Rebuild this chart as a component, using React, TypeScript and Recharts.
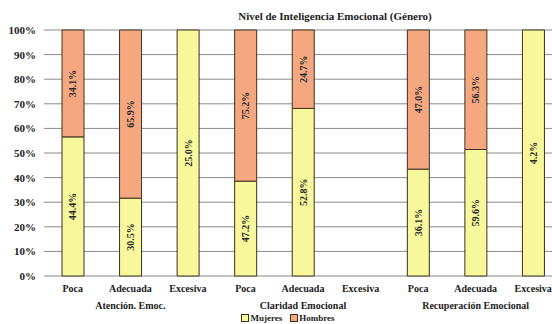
import { Bar, BarChart, CartesianGrid, LabelList, Legend, XAxis, YAxis } from "recharts";

const categories = ["Poca", "Adecuada", "Excesiva", "Poca", "Adecuada", "Excesiva", "Poca", "Adecuada", "Excesiva"];
const groups = ["Atención. Emoc.", "Claridad Emocional", "Recuperación Emocional"];
const mujeres = [44.4, 30.5, 25.0, 47.2, 52.8, 0, 36.1, 59.6, 4.2];
const hombres = [34.1, 65.9, 0, 75.2, 24.7, 0, 47.0, 56.3, 0];
const yTicks = [0, 0.1, 0.2, 0.3, 0.4, 0.5, 0.6, 0.7, 0.8, 0.9, 1];

const data = categories.map((cat, i) => ({
  key: `${cat}-${i}`,
  cat,
  mujeres: mujeres[i],
  hombres: hombres[i],
}));

const font = "'Liberation Serif', 'Times New Roman', serif";
const yellow = "#f7f79c";
const orange = "#f5a880";
const edge = "#3e3020";

function CatTick(props: any) {
  const { x, y, payload } = props;
  const i = payload.index;
  return (
    <g>
      <text x={x} y={y + 14} textAnchor="middle" fontFamily={font} fontWeight="bold" fontSize={10} fill="#222">
        {categories[i]}
      </text>
      {i % 3 === 1 && (
        <text x={x} y={y + 31} textAnchor="middle" fontFamily={font} fontWeight="bold" fontSize={10} fill="#222">
          {groups[Math.floor(i / 3)]}
        </text>
      )}
    </g>
  );
}

function ValueLabel(props: any) {
  const { x, y, width, height, value } = props;
  const v = Array.isArray(value) ? value[1] - value[0] : Number(value);
  if (!v) return null;
  const cx = x + width / 2;
  const cy = y + height / 2;
  return (
    <text
      x={cx}
      y={cy}
      transform={`rotate(-90 ${cx} ${cy})`}
      textAnchor="middle"
      dominantBaseline="central"
      fontFamily={font}
      fontWeight="bold"
      fontSize={10}
      fill="#2a2a2a"
    >
      {v.toFixed(1)}%
    </text>
  );
}

function LegendBox() {
  const item = (color: string, label: string) => (
    <span style={{ display: "inline-flex", alignItems: "center", marginRight: 8 }}>
      <span style={{ width: 6, height: 6, background: color, border: `1px solid ${edge}`, marginRight: 1 }} />
      {label}
    </span>
  );
  return (
    <div style={{ fontFamily: font, fontWeight: "bold", fontSize: 9, lineHeight: "10px", color: "#222", textAlign: "center", paddingLeft: 22, paddingTop: 1 }}>
      {item(yellow, "Mujeres")}
      {item(orange, "Hombres")}
    </div>
  );
}

export default function App() {
  return (
    <div style={{ position: "absolute", left: 0, top: 0, width: 552, height: 324, overflow: "hidden", background: "#fff" }}>
      <div
        style={{
          position: "absolute",
          top: 10,
          left: 335,
          transform: "translateX(-50%)",
          whiteSpace: "nowrap",
          fontFamily: font,
          fontWeight: "bold",
          fontSize: 11,
          color: "#222",
        }}
      >
        Nivel de Inteligencia Emocional (Género)
      </div>
      <BarChart
        width={562}
        height={324}
        data={data}
        stackOffset="expand"
        margin={{ top: 30, right: 0, left: 0, bottom: 0 }}
        barSize={22}
      >
        <CartesianGrid vertical={false} stroke="#8a8a8a" />
        <YAxis
          width={44}
          ticks={yTicks}
          domain={[0, 1]}
          tickFormatter={(v: number) => `${Math.round(v * 100)}%`}
          axisLine={false}
          tickLine={false}
          tickSize={0}
          tickMargin={8}
          tick={{ fontFamily: font, fontWeight: "bold", fontSize: 11, fill: "#222" }}
        />
        <XAxis dataKey="key" height={36} axisLine={false} tickLine={false} tickSize={0} interval={0} tick={<CatTick />} />
        <Legend verticalAlign="bottom" height={12} content={<LegendBox />} />
        <Bar dataKey="mujeres" name="Mujeres" stackId="a" fill={yellow} stroke={edge} strokeWidth={1} isAnimationActive={false}>
          <LabelList dataKey="mujeres" content={<ValueLabel />} />
        </Bar>
        <Bar dataKey="hombres" name="Hombres" stackId="a" fill={orange} stroke={edge} strokeWidth={1} isAnimationActive={false}>
          <LabelList dataKey="hombres" content={<ValueLabel />} />
        </Bar>
      </BarChart>
    </div>
  );
}
